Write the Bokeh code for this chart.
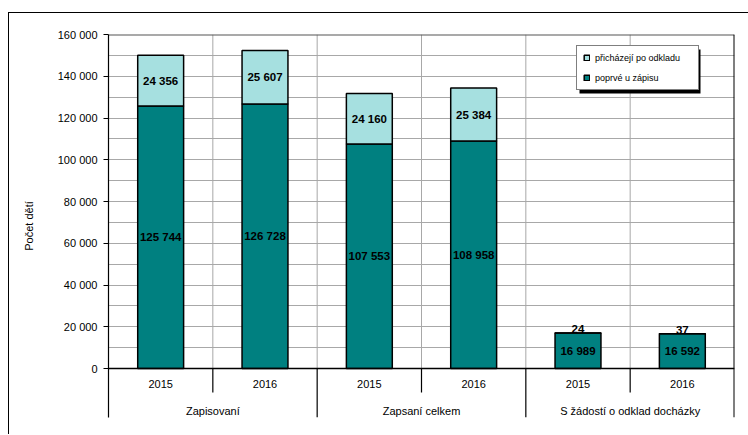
from bokeh.plotting import figure
from bokeh.models import (FactorRange, ColumnDataSource, FixedTicker, Legend,
                          LegendItem, BoxAnnotation, Range1d)
from bokeh.embed import file_html
from bokeh.resources import INLINE
from bokeh.core.properties import value

# ---------------- data ----------------
groups = ["Zapisovaní", "Zapsaní celkem", "S žádostí o odklad docházky"]
years = ["2015", "2016"]
poprve = [125744, 126728, 107553, 108958, 16989, 16592]
po_odkladu = [24356, 25607, 24160, 25384, 24, 37]
series_names = ["poprvé u zápisu", "přicházejí po odkladu"]
y_ticks = [0, 20000, 40000, 60000, 80000, 100000, 120000, 140000, 160000]
y_tick_labels = ["0", "20 000", "40 000", "60 000", "80 000", "100 000",
                 "120 000", "140 000", "160 000"]
y_label = "Počet dětí"

# ---------------- layout helpers ----------------
TEAL = "#008080"
LIGHT = "#a6e0e0"
GRID = "#a8a8a8"
FONT = "Liberation Sans"
Y_MAX = 160000
PLOT_H_PX = 334          # pixels from 0 to Y_MAX
BELOW_PX = 49            # pixels of frame below the zero line
per_px = Y_MAX / PLOT_H_PX
y_bottom = -BELOW_PX * per_px

factors = [(g, y) for g in groups for y in years]
x_range = FactorRange(*factors, range_padding=0, group_padding=0,
                      factor_padding=0, subgroup_padding=0)

p = figure(width=740, height=422, x_range=x_range,
           y_range=Range1d(y_bottom, Y_MAX),
           output_backend="svg", toolbar_location=None,
           x_axis_location=None,
           min_border_left=99, min_border_right=15,
           min_border_top=21, min_border_bottom=18)
p.margin = (12, 0, 0, 8)
p.styles = {"border-top": "1px solid #000", "border-left": "1px solid #000"}
p.outline_line_color = None
p.background_fill_color = "white"
p.xgrid.visible = False

# horizontal gridlines
p.ygrid.ticker = FixedTicker(ticks=list(range(0, Y_MAX, 10000)))
p.ygrid.grid_line_color = GRID
p.ygrid.grid_line_width = 1

# vertical gridlines at category boundaries (above zero)
n = len(factors)
bounds = list(range(1, n))
p.segment(x0=bounds, y0=[0] * len(bounds), x1=bounds, y1=[Y_MAX] * len(bounds),
          line_color=GRID, line_width=1)
# top frame line and right frame line
p.segment(x0=[0], y0=[Y_MAX], x1=[n], y1=[Y_MAX], line_color="#555555", line_width=2)
p.segment(x0=[n], y0=[y_bottom], x1=[n], y1=[Y_MAX], line_color="#000000", line_width=2)

# separators below the axis
year_seps = [i * len(years) + j for i in range(len(groups)) for j in range(1, len(years))]
group_seps = [i * len(years) for i in range(1, len(groups))]
y_sep = -24 * per_px
p.segment(x0=year_seps, y0=[0] * len(year_seps), x1=year_seps, y1=[y_sep] * len(year_seps),
          line_color="black", line_width=1.2)
p.segment(x0=group_seps, y0=[0] * len(group_seps), x1=group_seps,
          y1=[y_bottom] * len(group_seps), line_color="black", line_width=1.2)

# bars
src = ColumnDataSource(dict(x=factors, poprve=poprve, po_odkladu=po_odkladu))
r_bot, r_top = p.vbar_stack(["poprve", "po_odkladu"], x="x", width=0.44, source=src,
                            fill_color=[TEAL, LIGHT], line_color="black",
                            line_width=1.5)

# zero axis line
p.segment(x0=[0], y0=[0], x1=[n], y1=[0], line_color="black", line_width=1.5)

def fmt(v):
    return f"{v:,}".replace(",", " ")

# value labels
lbl_bot = ColumnDataSource(dict(x=factors, y=[v / 2 for v in poprve],
                                t=[fmt(v) for v in poprve]))
p.text(x="x", y="y", text="t", source=lbl_bot, text_align="center",
       text_baseline="middle", text_font=value(FONT), text_font_size="11.5px",
       text_font_style="bold", text_color="black")

min_fit = 16 * per_px
in_x, in_y, in_t, out_x, out_y, out_t = [], [], [], [], [], []
for f, a, b in zip(factors, poprve, po_odkladu):
    if b >= min_fit:
        in_x.append(f); in_y.append(a + b / 2); in_t.append(fmt(b))
    else:
        out_x.append(f); out_y.append(a + b); out_t.append(fmt(b))
p.text(x="x", y="y", text="t", source=ColumnDataSource(dict(x=in_x, y=in_y, t=in_t)),
       text_align="center", text_baseline="middle", text_font=value(FONT),
       text_font_size="11.5px", text_font_style="bold", text_color="black")
p.text(x="x", y="y", text="t", source=ColumnDataSource(dict(x=out_x, y=out_y, t=out_t)),
       text_align="center", text_baseline="bottom", text_font=value(FONT),
       text_font_size="11.5px", text_font_style="bold", text_color="black")

# category labels
p.text(x=factors, y=[-15 * per_px] * n, text=[f[1] for f in factors],
       text_align="center", text_baseline="middle", text_font=value(FONT),
       text_font_size="11px", text_color="black")
p.text(x=groups, y=[-42 * per_px] * len(groups), text=groups,
       text_align="center", text_baseline="middle", text_font=value(FONT),
       text_font_size="11px", text_color="black")

# y axis
ax = p.yaxis[0]
ax.ticker = FixedTicker(ticks=y_ticks)
ax.major_label_overrides = {t: l for t, l in zip(y_ticks, y_tick_labels)}
ax.minor_tick_line_color = None
ax.major_tick_in = 0
ax.major_tick_out = 5
ax.major_tick_line_color = "black"
ax.axis_line_color = "black"
ax.axis_line_width = 1.2
ax.major_label_text_font = FONT
ax.major_label_text_font_size = "11px"
ax.major_label_text_color = "black"
ax.major_label_standoff = 6
ax.axis_label = y_label
ax.axis_label_text_font = FONT
ax.axis_label_text_font_size = "11px"
ax.axis_label_text_font_style = "normal"
ax.axis_label_text_color = "black"
ax.axis_label_standoff = 20

# legend with shadow
LX, LY, LW, LH = 468, 327, 121, 44
shadow = BoxAnnotation(left=LX + 3, right=LX + LW + 3, bottom=LY - 3, top=LY + LH - 3,
                       left_units="screen", right_units="screen",
                       bottom_units="screen", top_units="screen",
                       fill_color="black", fill_alpha=1, line_color=None)
p.add_layout(shadow)
legend = Legend(items=[LegendItem(label=series_names[1], renderers=[r_top]),
                       LegendItem(label=series_names[0], renderers=[r_bot])],
                location=(LX, LY))
legend.border_line_color = "black"
legend.border_line_width = 1
legend.background_fill_color = "white"
legend.background_fill_alpha = 1
legend.label_text_font = FONT
legend.label_text_font_size = "9px"
legend.label_text_color = "black"
legend.glyph_width = 7
legend.glyph_height = 7
legend.label_height = 11
legend.label_width = 97
legend.label_standoff = 5
legend.padding = 6
legend.spacing = 9
legend.margin = 0
p.add_layout(legend, "center")

open("out.html", "w").write(file_html(p, INLINE))
